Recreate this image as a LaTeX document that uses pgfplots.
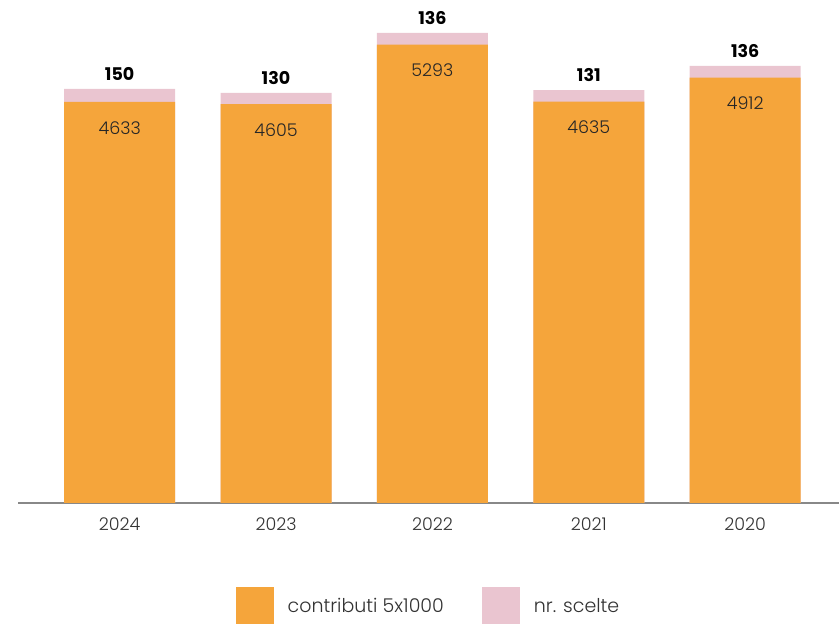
\documentclass[border=0pt]{standalone}
\usepackage{pgfplots}
\pgfplotsset{compat=1.18}
\usepackage{fontspec}
\setmainfont{Poppins}[UprightFont=* Light, BoldFont=* Bold]
\definecolor{orangebar}{HTML}{F5A53B}
\definecolor{pinkbar}{HTML}{EAC5D0}
\definecolor{txt}{HTML}{333333}
\definecolor{axisgray}{HTML}{888888}
\begin{document}
\begin{tikzpicture}[x=1pt,y=1pt]
\path[use as bounding box] (0,0) rectangle (839,624);
\begin{axis}[
  at={(18pt,121pt)}, anchor=south west,
  scale only axis, width=821pt, height=503pt,
  ybar, bar width=111pt, bar shift=0pt,
  xmin=-0.65, xmax=4.6, ymin=0, ymax=5808,
  axis x line=bottom, axis y line=none,
  x axis line style={-, draw=axisgray, line width=2.5pt},
  xtick={0,1,2,3,4}, xticklabels={2024,2023,2022,2021,2020},
  major tick length=0pt,
  xticklabel style={font=\fontsize{17.5}{20}\selectfont, text=txt, yshift=-11pt},
  /pgf/number format/.cd, 1000 sep={}, assume math mode=true, /pgfplots/.cd,
  legend columns=2,
  legend style={draw=none, at={(0.5,-0.205)}, anchor=center,
    font=\fontsize{19}{22}\selectfont, text=txt,
    /tikz/every odd column/.append style={column sep=12pt},
    /tikz/every even column/.append style={column sep=36pt}},
  legend image code/.code={\fill[#1] (0pt,-19pt) rectangle (38pt,19pt);},
]
\addlegendimage{fill=orangebar, draw=none}
\addlegendentry{contributi 5x1000}
\addlegendimage{fill=pinkbar, draw=none}
\addlegendentry{nr. scelte}
% total height (contributi + scelte), label = nr. scelte
\addplot[fill=pinkbar, draw=none, forget plot,
  point meta=explicit symbolic,
  nodes near coords,
  every node near coord/.append style={font=\fontsize{17.5}{20}\selectfont\bfseries, text=black, anchor=center, yshift=15pt}]
  coordinates {(0,4783) [150] (1,4735) [130] (2,5429) [136] (3,4766) [131] (4,5048) [136]};
\addplot[fill=orangebar, draw=none, forget plot,
  nodes near coords,
  every node near coord/.append style={font=\fontsize{17.5}{20}\selectfont, text=black!85, anchor=center, yshift=-26pt}]
  coordinates {(0,4633) (1,4605) (2,5293) (3,4635) (4,4912)};
\end{axis}
\end{tikzpicture}
\end{document}
